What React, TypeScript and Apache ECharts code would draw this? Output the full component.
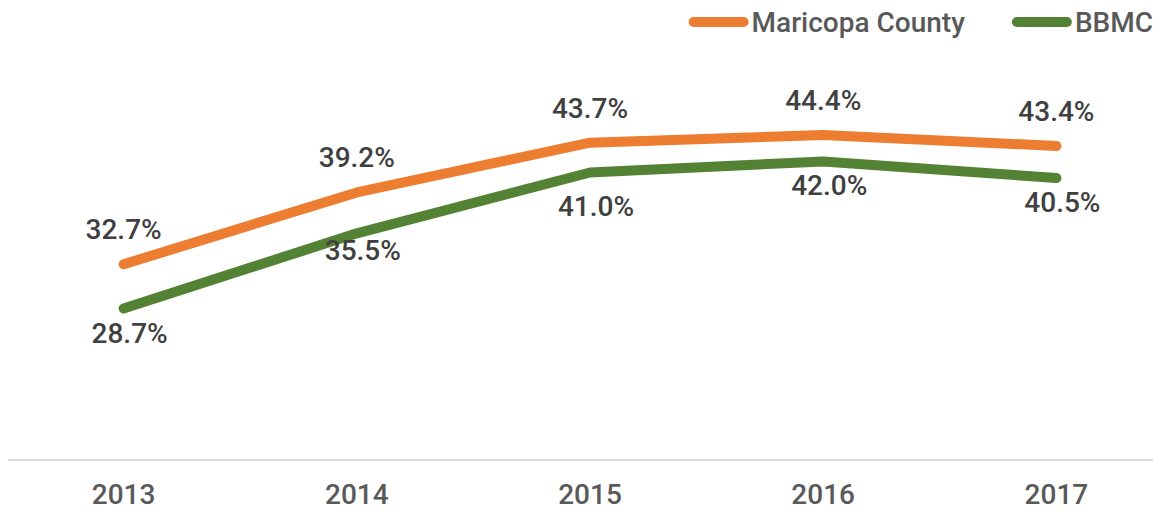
import React, { useEffect, useRef } from "react";
import * as echarts from "echarts";

const years = ["2013", "2014", "2015", "2016", "2017"];
const maricopa = [32.7, 39.2, 43.7, 44.4, 43.4];
const bbmc = [28.7, 35.5, 41.0, 42.0, 40.5];
const seriesNames = ["Maricopa County", "BBMC"];
const seriesColors = ["#ED7D31", "#548235"];
// per-point vertical nudges of BBMC labels (as placed in the original)
const bbmcLabelNudge = [0, -7, 9, 0, 0];

const FONT = "Roboto";
const CHART_W = 1175;

export default function App() {
  const ref = useRef<HTMLDivElement>(null);
  useEffect(() => {
    if (!ref.current) return;
    const chart = echarts.init(ref.current, undefined, { renderer: "svg" });
    const labelStyle = {
      show: true,
      fontFamily: FONT,
      fontSize: 28,
      fontWeight: 500,
      color: "#404040",
      formatter: (p: any) => p.value.toFixed(1) + "%",
    };
    chart.setOption({
      animation: false,
      backgroundColor: "#ffffff",
      legend: {
        top: 3,
        right: CHART_W - 1161 + 3,
        itemWidth: 60,
        itemHeight: 10,
        itemGap: 47,
        icon: "path://M5,0 H55 A5,5 0 0 1 55,10 H5 A5,5 0 0 1 5,0 Z",
        textStyle: {
          fontFamily: FONT,
          fontSize: 28,
          fontWeight: 500,
          color: "#595959",
          padding: [0, 0, 0, -2],
        },
        data: seriesNames.map((n, i) => ({
          name: n,
          itemStyle: { color: seriesColors[i], opacity: 1 },
        })),
      },
      grid: { left: 7, right: 2, top: 73, bottom: 52 },
      xAxis: {
        type: "category",
        data: years,
        boundaryGap: true,
        axisLine: { show: true, lineStyle: { color: "#d9d9d9", width: 2 } },
        axisTick: { show: false },
        axisLabel: {
          margin: 20,
          fontFamily: FONT,
          fontSize: 28,
          fontWeight: 500,
          color: "#595959",
        },
      },
      yAxis: {
        type: "value",
        min: 15,
        max: 50,
        show: false,
        splitLine: { show: false },
      },
      series: [
        {
          name: seriesNames[0],
          type: "line",
          data: maricopa,
          showSymbol: true,
          symbol: "circle",
          symbolSize: 1,
          itemStyle: { color: "rgba(0,0,0,0)" },
          lineStyle: { width: 10, color: seriesColors[0], cap: "round", join: "round" },
          label: { ...labelStyle, position: "top", distance: 20 },
          labelLayout: { hideOverlap: false },
        },
        {
          name: seriesNames[1],
          type: "line",
          data: bbmc.map((v, i) => ({
            value: v,
            label: { offset: [6, bbmcLabelNudge[i]] },
          })),
          showSymbol: true,
          symbol: "circle",
          symbolSize: 1,
          itemStyle: { color: "rgba(0,0,0,0)" },
          lineStyle: { width: 10, color: seriesColors[1], cap: "round", join: "round" },
          label: { ...labelStyle, position: "bottom", distance: 10 },
        },
      ],
    });
    return () => chart.dispose();
  }, []);
  return (
    <div style={{ width: 1161, height: 512, margin: -8, overflow: "hidden" }}>
      <div ref={ref} style={{ width: CHART_W, height: 512 }} />
    </div>
  );
}
